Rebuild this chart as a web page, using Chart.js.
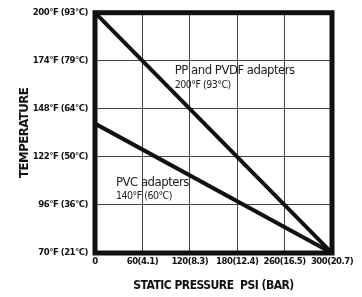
<!DOCTYPE html>
<html>
<head>
<meta charset="utf-8">
<script src="https://cdn.jsdelivr.net/npm/chart.js@4"></script>
<style>
  html, body { margin: 0; padding: 0; background: #fff; }
  #wrap { width: 362px; height: 297px; }
</style>
</head>
<body>
<div id="wrap"><canvas id="rating"></canvas></div>
<script>
const FONT = "'DejaVu Sans', sans-serif";

// data
const psiTicks = [0, 60, 120, 180, 240, 300];
const psiLabels = ["0", "60(4.1)", "120(8.3)", "180(12.4)", "260(16.5)", "300(20.7)"];
const tempTicks = [70, 96, 122, 148, 174, 200];
const tempLabels = ["70°F (21°C)", "96°F (36°C)", "122°F (50°C)", "148°F (64°C)", "174°F (79°C)", "200°F (93°C)"];
const ppPsi = [0, 300];
const ppTemp = [200, 70];
const pvcPsi = [0, 300];
const pvcTemp = [140, 70];

const notes = [
  { text: "PP and PVDF adapters", x: 101, y: 168.4, size: 13 },
  { text: "200°F (93°C)", x: 101, y: 160.6, size: 10.5 },
  { text: "PVC adapters", x: 26.6, y: 108.3, size: 13 },
  { text: "140°F (60°C)", x: 26.6, y: 100.8, size: 10.5 }
];

// narrow the lettering a bit, like the condensed face of the original
const tighten = {
  id: "tighten",
  beforeLayout(chart) { chart.ctx.letterSpacing = "-0.5px"; },
  beforeDraw(chart) { chart.ctx.letterSpacing = "-0.5px"; }
};

const frame = {
  id: "frame",
  afterDraw(chart) {
    const { ctx, chartArea: a, scales } = chart;
    ctx.save();
    ctx.strokeStyle = "#111";
    ctx.lineWidth = 5;
    ctx.strokeRect(a.left, a.top, a.right - a.left, a.bottom - a.top);
    ctx.fillStyle = "#222";
    ctx.textBaseline = "middle";
    ctx.textAlign = "left";
    notes.forEach(n => {
      ctx.font = "normal condensed " + n.size + "px " + FONT;
      ctx.fillText(n.text, scales.x.getPixelForValue(n.x), scales.y.getPixelForValue(n.y));
    });
    ctx.restore();
  }
};

const toXY = (xs, ys) => xs.map((x, i) => ({ x: x, y: ys[i] }));

new Chart(document.getElementById("rating").getContext("2d"), {
  type: "line",
  data: {
    datasets: [
      { data: toXY(ppPsi, ppTemp), borderColor: "#111", borderWidth: 4, pointRadius: 0, fill: false },
      { data: toXY(pvcPsi, pvcTemp), borderColor: "#111", borderWidth: 4, pointRadius: 0, fill: false }
    ]
  },
  options: {
    responsive: true,
    maintainAspectRatio: false,
    animation: false,
    layout: { padding: { top: 10, right: 30, left: 0, bottom: 0 } },
    plugins: { legend: { display: false }, tooltip: { enabled: false } },
    scales: {
      x: {
        type: "linear",
        min: 0, max: 300,
        afterBuildTicks: s => { s.ticks = psiTicks.map(v => ({ value: v })); },
        afterFit: s => { s.height = 44; },
        ticks: {
          autoSkip: false, maxRotation: 0, padding: 3, color: "#111",
          font: { family: FONT, size: 9.5, weight: "bold condensed" },
          callback: v => psiLabels[psiTicks.indexOf(v)]
        },
        grid: { color: "#444", lineWidth: 1, drawTicks: false },
        border: { display: false },
        title: {
          display: true, text: "STATIC PRESSURE  PSI (BAR)", color: "#111",
          font: { family: FONT, size: 12, weight: "bold condensed" }, padding: { top: 3 }
        }
      },
      y: {
        type: "linear",
        min: 70, max: 200,
        afterBuildTicks: s => { s.ticks = tempTicks.map(v => ({ value: v })); },
        afterFit: s => { s.width = 95; },
        ticks: {
          autoSkip: false, padding: 7, color: "#111",
          font: { family: FONT, size: 9.5, weight: "bold condensed" },
          callback: v => tempLabels[tempTicks.indexOf(v)]
        },
        grid: { color: "#444", lineWidth: 1, drawTicks: false },
        border: { display: false },
        title: {
          display: true, text: "TEMPERATURE", color: "#111",
          font: { family: FONT, size: 13, weight: "bold condensed" }, padding: { top: 17, bottom: 0 }
        }
      }
    }
  },
  plugins: [tighten, frame]
});
</script>
</body>
</html>
